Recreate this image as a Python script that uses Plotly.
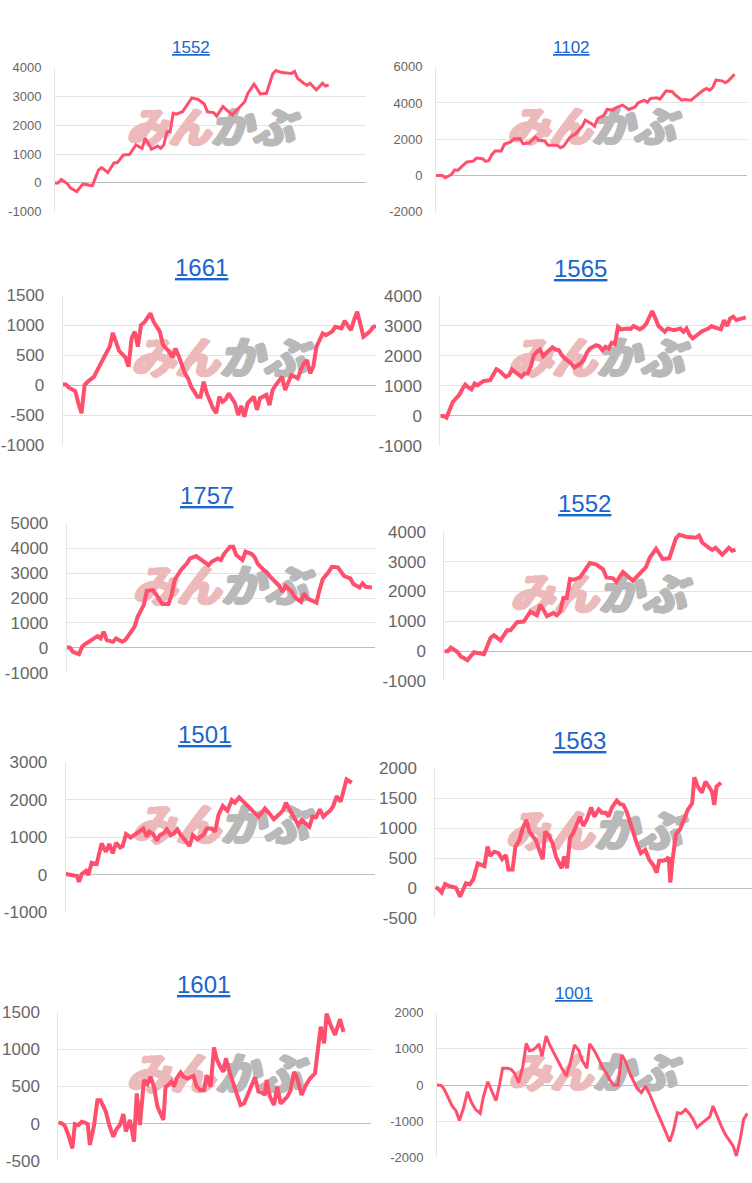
import plotly.graph_objects as go

# ---------------- data (trading-day index, cumulative P/L) ----------------
D_1552 = [0,1,2,4,5,7,9,11,12,14,15,17,19,20,22,24,26,28,29,30,31,33,34,35,36,37,38,39,41,44,
          46,48,49,51,52,54,56,57,59,61,62,64,66,68,70,71,73,76,77,78,80,81,82,84,85,86,87,88]
V_1552 = [0,0,120,-30,-180,-300,-35,-70,-100,450,530,360,700,700,970,990,1320,1200,1550,1380,
          1170,1280,1200,1320,1780,1780,2420,2390,2470,2950,2900,2740,2470,2440,2320,2650,2470,2360,2590,2820,
          3110,3430,3090,3110,3780,3900,3830,3800,3870,3630,3460,3390,3460,3230,3340,3460,3360,3400]

D_1102 = [0,2,3,5,6,7,9,10,12,13,15,16,17,18,19,21,22,24,25,27,28,30,32,33,35,36,39,40,41,43,
          45,47,48,50,51,52,54,55,57,58,60,62,64,65,67,68,69,71,72,74,76,77,79,80,82,84,85,86,87,88,
          89,90,92,93,94,96]
V_1102 = [0,0,-130,55,310,280,610,740,790,960,920,775,830,1160,1350,1350,1720,1850,2010,2030,
          1750,1790,2120,1940,1900,1660,1660,1530,1610,2090,2310,2710,3050,2860,2710,3140,3320,3640,3600,3750,
          3880,3640,3780,4010,4150,4040,4250,4280,4210,4670,4620,4430,4150,4190,4150,4430,4620,4710,4800,4710,
          4860,5260,5220,5110,5220,5580]

D_1661 = [0,1,2,4,5,6,7,8,10,11,12,13,15,16,17,18,20,21,22,23,24,25,26,27,28,29,31,32,33,34,
          35,36,37,38,39,40,41,42,43,44,45,46,48,49,50,51,52,53,55,56,57,58,59,61,62,63,65,66,67,68,
          69,70,71,72,73,74,75,76,77,78,79,80,81,82,83,84,86,87,89,90,92,93,94,95,96,98,99,100]
V_1661 = [10,10,-45,-100,-305,-470,0,55,140,250,370,445,640,870,720,570,460,305,780,890,
          640,1000,1040,1110,1195,1055,890,670,610,555,460,610,485,335,195,110,-30,-110,-195,-195,
          55,-140,-390,-470,-195,-280,-240,-140,-305,-500,-350,-530,-305,-195,-415,-220,-165,-335,-85,0,
          70,140,-85,30,165,140,110,250,360,415,195,305,640,750,860,830,890,970,945,1070,
          915,1085,1220,1015,805,890,960,985]

D_1565 = [0,1,2,3,4,5,6,7,8,9,10,11,12,13,14,16,17,18,19,21,22,23,24,26,27,28,29,30,31,32,
          33,34,36,37,38,39,40,42,43,45,46,47,48,50,51,52,53,54,55,56,57,58,60,61,62,64,65,66,67,68,
          69,70,72,73,74,75,77,78,79,80,81,83,84,86,87,88,90,91,92,93,94,95,96,98]
V_1565 = [0,0,-55,190,465,580,690,880,1045,945,880,1080,1020,1100,1165,1190,1410,1555,1500,1300,
          1355,1545,1465,1300,1410,1410,1635,2020,2135,2210,1990,2100,2280,2210,2190,2020,1910,1745,1610,1745,
          1855,2100,2245,2355,2320,2190,2300,2245,2435,2390,2965,2880,2910,2890,2990,2880,2945,3055,3300,3490,
          3245,2990,2800,2910,2880,2855,2910,2800,2910,2690,2580,2720,2820,2910,2990,2945,2880,3190,2990,3245,
          3300,3190,3210,3280]

D_1757 = [0,1,2,4,5,6,8,10,11,12,13,15,16,18,19,20,22,23,25,26,28,29,30,31,33,34,35,37,39,40,
          42,43,44,46,47,49,50,51,53,54,55,57,58,60,61,62,64,65,66,67,69,70,71,73,74,76,77,78,80,81,
          82,83,85,86,88,89,90,92,93,95,96,97,99]
V_1757 = [15,15,-160,-255,40,150,310,470,375,645,310,240,375,240,310,470,845,1245,1715,2290,
          2320,2145,1915,1755,1755,2115,2720,3120,3390,3590,3685,3590,3525,3325,3455,3590,3525,3765,4060,4060,
          3725,3525,3860,3765,3630,3365,3120,3015,2855,2720,2480,2250,2480,2250,2025,1850,2185,1985,1890,1810,
          2320,2745,3055,3255,3230,3055,2880,2785,2560,2425,2585,2450,2425]

D_1501 = [0,1.4,2.7,3.6,4.3,5.2,6.6,7.3,8.4,10.0,11.6,13.0,14.1,15.2,16.3,17.6,18.4,19.5,21.0,22.4,
          23.8,25.1,26.2,27.0,28.3,29.4,30.5,31.6,32.7,33.9,35.0,36.1,37.2,38.6,40.0,41.1,42.6,43.6,44.5,45.6,
          47.2,48.3,49.4,50.8,52.3,53.7,54.7,56.1,57.4,59.1,60.7,62.3,63.4,64.4,65.8,67.3,69.1,70.2,71.2,72.5,
          73.8,75.2,76.3,77.4,78.8,79.8,80.9,82.2,83.3,84.4,85.5,86.5,87.6,88.9,90.0,90.8,92.5]
V_1501 = [20,0,-25,-35,-185,20,105,-10,320,285,835,615,820,570,855,730,765,1085,995,1060,
          1150,1235,1015,1150,1085,910,1060,1105,1210,1060,1105,1210,1060,925,765,1060,945,1015,1060,1235,
          1235,1150,1595,1835,1710,1995,1925,2065,1950,1815,1680,1550,1655,1770,1640,1480,1620,1710,1925,1745,
          1550,1325,1460,1370,1280,1550,1530,1745,1550,1640,1710,1835,2100,1950,2350,2545,2455]

D_1563 = [0,1.1,2.0,3.1,4.2,5.5,6.5,7.8,8.8,9.7,10.9,12.0,13.4,14.4,15.5,16.5,17.3,18.6,20.0,21.1,
          22.3,23.1,24.4,25.3,26.5,27.6,28.8,29.7,30.7,31.8,32.8,33.9,34.7,36.0,37.1,38.1,39.2,39.9,40.7,41.6,
          42.5,43.6,44.6,45.7,46.7,47.8,49.2,50.2,51.6,52.6,53.9,54.7,55.8,57.3,58.3,59.4,60.4,61.5,62.5,63.6,
          64.9,66.3,67.6,68.8,69.9,70.7,71.8,72.6,73.7,74.2,74.9,76.0,77.3,78.6,79.7,81.1,81.8,82.8,84.2,85.3,
          86.5,87.4,88.1,88.8,90.2]
V_1563 = [15,-15,-70,70,40,15,10,-140,-40,85,65,150,415,400,370,695,540,610,585,485,
          555,315,315,695,795,1000,1140,945,860,795,640,485,945,860,740,530,405,335,530,335,
          835,930,1055,1195,1040,1140,1350,1195,1315,1260,1260,1195,1350,1460,1405,1390,1280,1085,915,750,
          585,640,470,390,260,460,460,470,515,95,470,905,985,1140,1305,1415,1850,1705,1595,1780,
          1695,1610,1390,1695,1760]

D_1601 = [0,1.1,2.1,3.2,4.5,5.3,6.4,7.5,8.5,9.4,10.1,11.4,12.5,13.5,15.2,16.3,17.6,18.7,19.7,20.8,
          21.6,22.9,24.2,25.1,26.1,27.4,28.5,29.5,30.6,31.7,33.6,34.3,35.2,36.2,37.0,37.8,39.1,40.0,41.3,42.3,
          43.2,44.2,45.3,46.6,47.4,48.7,49.8,50.6,51.7,52.8,53.6,54.9,56.0,57.0,58.3,59.4,60.4,61.5,62.9,64.0,
          65.0,66.1,66.6,67.7,69.0,70.0,71.1,72.2,73.2,74.3,75.4,76.4,77.8,79.2,80.5,82.1,83.2,83.9,85.0,85.8,
          87.1,88.5,90.1,91.2]
V_1601 = [15,5,-30,-150,-330,-5,-20,25,15,-5,-285,-30,315,315,160,-20,-175,-65,-20,130,
          -105,50,-240,405,-20,585,530,630,495,230,50,495,520,565,495,605,685,630,605,620,
          640,505,450,450,650,495,1020,875,765,695,875,675,520,405,250,270,370,495,620,430,
          420,385,585,360,250,495,270,315,360,450,695,605,385,520,605,675,1055,1300,1075,1475,
          1320,1190,1400,1230]

D_1001 = [0,1.3,2.3,3.4,4.8,6.0,7.1,8.4,9.7,10.8,12.2,13.7,14.7,16.1,17.4,18.7,19.8,20.8,22.4,23.5,
          24.6,25.9,27.2,28.3,29.3,30.4,31.4,32.3,33.3,34.6,35.9,37.2,38.3,39.4,41.0,42.2,43.6,45.0,46.0,47.5,
          48.4,49.9,51.3,52.6,53.7,54.7,56.0,57.4,58.6,59.8,61.1,62.3,63.4,64.8,66.1,67.4,68.5,69.7,71.1,72.5,
          73.8,75.0,76.2,77.5,78.8,80.1,81.2,82.4,83.8,85.2,86.5,87.5,88.8,90.2,91.5,92.8,93.9,94.9,96.2,97.2,
          98.4]
V_1001 = [0,-10,-120,-325,-580,-710,-985,-645,-185,-460,-675,-785,-325,90,-185,-435,0,460,460,435,
          325,65,505,1150,950,970,1040,1135,800,1355,1080,855,710,490,250,600,1105,950,690,460,
          1135,950,710,460,325,155,0,0,830,645,325,120,-90,-210,-30,-250,-460,-735,-1015,-1290,
          -1565,-1245,-765,-785,-675,-800,-950,-1170,-1060,-970,-875,-580,-875,-1150,-1380,-1565,-1685,-1965,-1475,-950,
          -785]

TITLES = ["1552", "1102", "1661", "1565", "1757", "1552", "1501", "1563", "1601", "1001"]
SERIES = [(D_1552, V_1552), (D_1102, V_1102), (D_1661, V_1661), (D_1565, V_1565), (D_1757, V_1757),
          (D_1552, V_1552), (D_1501, V_1501), (D_1563, V_1563), (D_1601, V_1601), (D_1001, V_1001)]
Y_RANGES = [(-1000, 4000, 1000), (-2000, 6000, 2000), (-1000, 1500, 500), (-1000, 4000, 1000),
            (-1000, 5000, 1000), (-1000, 4000, 1000), (-1000, 3000, 1000), (-500, 2000, 500),
            (-500, 1500, 500), (-2000, 2000, 1000)]

# ---------------- layout (pixel boxes of each panel) ----------------
W, H = 752, 1183
BOXES = [
    dict(l=55, r=366, t=67.7, b=211.7, tx=190.8, ty=47.8, big=False, xmax=100),
    dict(l=436, r=747, t=66.7, b=211.7, tx=571.8, ty=47.0, big=False, xmax=100),
    dict(l=62.7, r=376, t=295, b=445, tx=201.7, ty=267.5, big=True, xmax=100),
    dict(l=440.3, r=752, t=295.7, b=446, tx=580.5, ty=268.3, big=True, xmax=100),
    dict(l=66.7, r=375, t=523.3, b=672.7, tx=206.2, ty=495.8, big=True, xmax=100),
    dict(l=444.3, r=752, t=531.7, b=681, tx=584.3, ty=504.0, big=True, xmax=93),
    dict(l=65.7, r=375, t=762.3, b=912.3, tx=204.7, ty=734.0, big=True, xmax=100),
    dict(l=435.3, r=752, t=768.3, b=918.3, tx=579.7, ty=740.8, big=True, xmax=100),
    dict(l=58.3, r=371, t=1011.7, b=1161, tx=203.0, ty=984.0, big=True, xmax=100),
    dict(l=437, r=748, t=1012.7, b=1157.3, tx=573.5, ty=993.0, big=False, xmax=98.6),
]

LINE_COLOR = "#ff4f6d"
FONT = "Liberation Sans, Arial, sans-serif"
WM_FONT = "Noto Sans CJK JP, sans-serif"
PINK = "rgb(236,186,186)"
GREY = "rgb(185,185,185)"


def fat(color):
    offs = [(1, 0), (-1, 0), (0, 1), (0, -1), (1, 1), (-1, -1), (1, -1), (-1, 1), (2, 0), (-2, 0)]
    return ", ".join(f"{a}px {b}px 0 {color}" for a, b in offs)


fig = go.Figure()
layout = dict(width=W, height=H, margin=dict(l=0, r=0, t=0, b=0, autoexpand=False),
              paper_bgcolor="white", plot_bgcolor="white", showlegend=False,
              annotations=[])

for i, (title, (days, vals), (ymin, ymax, dt), box) in enumerate(zip(TITLES, SERIES, Y_RANGES, BOXES)):
    n = i + 1
    xk = "x" if n == 1 else f"x{n}"
    yk = "y" if n == 1 else f"y{n}"
    xname = "xaxis" if n == 1 else f"xaxis{n}"
    yname = "yaxis" if n == 1 else f"yaxis{n}"
    big = box["big"]
    tickvals = list(range(ymin, ymax + 1, dt))
    layout[xname] = dict(domain=[box["l"] / W, box["r"] / W], range=[0, box["xmax"]],
                         anchor=yk, showticklabels=False, showgrid=False, zeroline=False,
                         showline=False, ticks="", fixedrange=True, automargin=False)
    layout[yname] = dict(domain=[1 - box["b"] / H, 1 - box["t"] / H], range=[ymin, ymax],
                         anchor=xk, tickvals=tickvals, ticktext=[str(v) for v in tickvals],
                         showgrid=True, gridcolor="#e4e4e4", gridwidth=1,
                         zeroline=True, zerolinecolor="#bdbdbd", zerolinewidth=1,
                         showline=True, linecolor="#e4e4e4", linewidth=1, ticks="",
                         ticklabelstandoff=14 if big else 10, automargin=False,
                         tickfont=dict(family=FONT, size=17 if big else 13, color="#666666"),
                         fixedrange=True)
    # watermark (behind the line)
    xm = box["xmax"] / 2
    ym = (ymin + ymax) / 2 + 0.05 * (ymax - ymin)
    wm_size = 44 if big else 42
    fig.add_trace(go.Scatter(x=[xm], y=[ym], mode="text", text=["みん"], textposition="middle left",
                             textfont=dict(family=WM_FONT, size=wm_size, color=PINK,
                                           weight="bold", style="italic", shadow=fat(PINK)),
                             xaxis=xk, yaxis=yk, hoverinfo="skip", cliponaxis=False))
    fig.add_trace(go.Scatter(x=[xm], y=[ym], mode="text", text=["かぶ"], textposition="middle right",
                             textfont=dict(family=WM_FONT, size=wm_size, color=GREY,
                                           weight="bold", style="italic", shadow=fat(GREY)),
                             xaxis=xk, yaxis=yk, hoverinfo="skip", cliponaxis=False))
    m = min(len(days), len(vals))
    fig.add_trace(go.Scatter(x=days[:m], y=vals[:m], mode="lines",
                             line=dict(color=LINE_COLOR, width=4 if big else 3),
                             xaxis=xk, yaxis=yk, hoverinfo="skip", cliponaxis=False))
    layout["annotations"].append(dict(
        text=f"<u>{title}</u>", xref="paper", yref="paper",
        x=box["tx"] / W, y=1 - box["ty"] / H, xanchor="center", yanchor="middle",
        showarrow=False, font=dict(family=FONT, size=24 if big else 17, color="#1a66cc")))

fig.update_layout(**layout)
fig.write_html("out.html")
